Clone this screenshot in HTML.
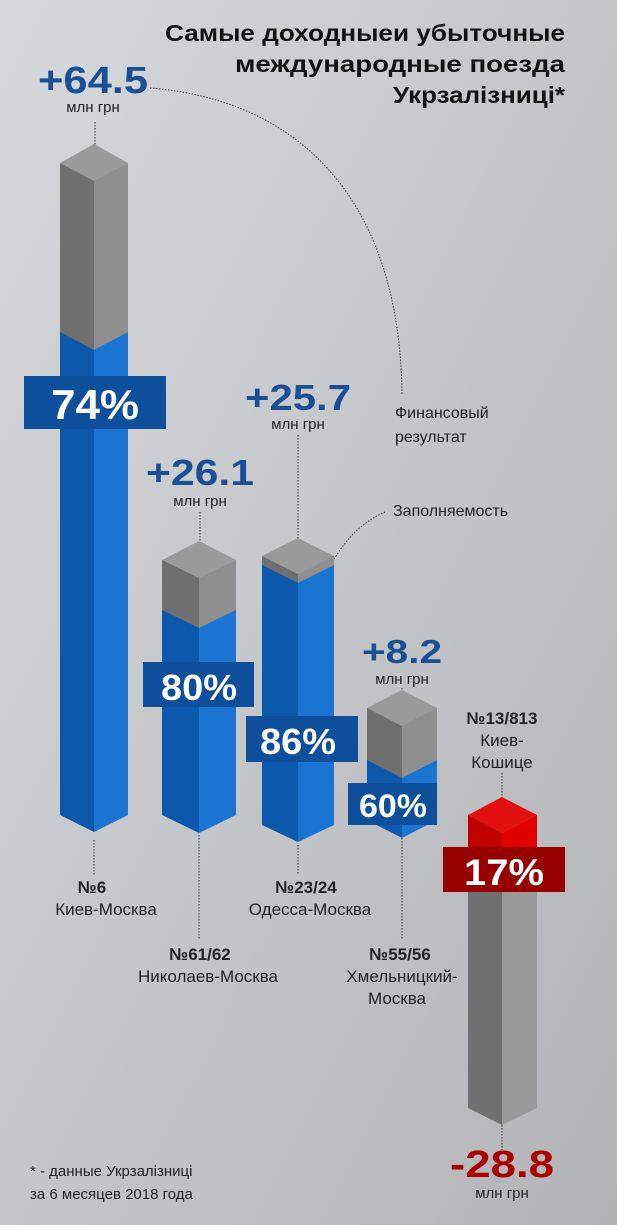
<!DOCTYPE html>
<html><head><meta charset="utf-8"><style>
html,body{margin:0;padding:0}
body{width:617px;height:1225px;overflow:hidden;font-family:"Liberation Sans","DejaVu Sans",sans-serif}
</style></head><body>
<svg width="617" height="1225" viewBox="0 0 617 1225" xmlns="http://www.w3.org/2000/svg" font-family="Liberation Sans, DejaVu Sans, sans-serif">
<defs>
<linearGradient id="bg" x1="0" y1="0" x2="1" y2="1">
<stop offset="0" stop-color="#d6d8db"/><stop offset="0.5" stop-color="#c4c6c9"/><stop offset="1" stop-color="#b2b4b7"/>
</linearGradient>
</defs>
<rect width="617" height="1225" fill="url(#bg)"/>
<g font-weight="bold" font-size="23" fill="#111" text-anchor="end">
<text x="565" y="41" textLength="400" lengthAdjust="spacingAndGlyphs">Самые доходныеи убыточные</text>
<text x="565" y="72" textLength="330" lengthAdjust="spacingAndGlyphs">международные поезда</text>
<text x="565" y="103" textLength="172" lengthAdjust="spacingAndGlyphs">Укрзалізниці*</text>
</g>
<g fill="none" stroke="#333" stroke-width="1" stroke-dasharray="1.5 1.5">
<path d="M150 88 C300 100 400 200 402 395"/>
<path d="M385 512 C320 540 290 640 330 740"/>
<line x1="95" y1="122" x2="95" y2="158"/>
<line x1="200" y1="512" x2="200" y2="555"/>
<line x1="298" y1="435" x2="298" y2="552"/>
<line x1="402" y1="688" x2="402" y2="705"/>
<line x1="502" y1="773" x2="502" y2="810"/>
<line x1="502" y1="1125" x2="502" y2="1150"/>
<line x1="94" y1="840" x2="94" y2="875"/>
<line x1="199" y1="835" x2="199" y2="940"/>
<line x1="298" y1="845" x2="298" y2="875"/>
<line x1="402" y1="835" x2="402" y2="940"/>
</g>
<g>
<polygon points="60,163 94,181 94,832 60,815" fill="#0b58ad"/>
<polygon points="94,181 128,163 128,815 94,832" fill="#1b74d2"/>
<polygon points="60,163 94,181 94,350 60,332" fill="#6f6f6f"/>
<polygon points="94,181 128,163 128,332 94,350" fill="#8f8f8f"/>
<polygon points="60,163 94,144 128,163 94,181" fill="#9a9a9a"/>
</g>
<g>
<polygon points="162,560 199,578 199,833 162,815" fill="#0b58ad"/>
<polygon points="199,578 236,560 236,815 199,833" fill="#1b74d2"/>
<polygon points="162,560 199,578 199,628 162,610" fill="#6f6f6f"/>
<polygon points="199,578 236,560 236,610 199,628" fill="#8f8f8f"/>
<polygon points="162,560 199,541 236,560 199,578" fill="#9a9a9a"/>
</g>
<g>
<polygon points="262,556 298,574 298,842 262,825" fill="#0b58ad"/>
<polygon points="298,574 334,556 334,825 298,842" fill="#1b74d2"/>
<polygon points="262,556 298,574 298,583 262,565" fill="#6f6f6f"/>
<polygon points="298,574 334,556 334,565 298,583" fill="#8f8f8f"/>
<polygon points="262,556 298,538 334,556 298,574" fill="#9a9a9a"/>
</g>
<g>
<polygon points="367,708 402,726 402,838 367,820" fill="#0b58ad"/>
<polygon points="402,726 437,708 437,820 402,838" fill="#1b74d2"/>
<polygon points="367,708 402,726 402,778 367,760" fill="#6f6f6f"/>
<polygon points="402,726 437,708 437,760 402,778" fill="#8f8f8f"/>
<polygon points="367,708 402,690 437,708 402,726" fill="#9a9a9a"/>
</g>
<g>
<polygon points="468,815 502,833 502,1125 468,1108" fill="#707070"/>
<polygon points="502,833 537,815 537,1108 502,1125" fill="#9a9a9a"/>
<polygon points="468,815 502,833 502,850 468,850" fill="#c20000"/>
<polygon points="502,833 537,815 537,850 502,850" fill="#e00000"/>
<polygon points="468,815 502,797 537,815 502,833" fill="#e21010"/>
</g>
<g font-weight="bold" font-size="42" fill="#fff" text-anchor="middle">
<rect x="24" y="376" width="142" height="53" fill="#0d4f9a"/><text x="95" y="419" textLength="88" lengthAdjust="spacingAndGlyphs">74%</text>
<rect x="143" y="662" width="111" height="45" fill="#0d4f9a"/><text x="199" y="700" font-size="36" textLength="76" lengthAdjust="spacingAndGlyphs">80%</text>
<rect x="246" y="716" width="112" height="46" fill="#0d4f9a"/><text x="298" y="754" font-size="36" textLength="76" lengthAdjust="spacingAndGlyphs">86%</text>
<rect x="348" y="783" width="89" height="42" fill="#0d4f9a"/><text x="393" y="817" font-size="32" textLength="68" lengthAdjust="spacingAndGlyphs">60%</text>
<rect x="443" y="847" width="122" height="45" fill="#960000"/><text x="504" y="885" font-size="37" textLength="80" lengthAdjust="spacingAndGlyphs">17%</text>
</g>
<g font-weight="bold" fill="#1a4f95" text-anchor="middle">
<text x="93" y="93" font-size="38" textLength="110" lengthAdjust="spacingAndGlyphs">+64.5</text>
<text x="200" y="485" font-size="36" textLength="108" lengthAdjust="spacingAndGlyphs">+26.1</text>
<text x="298" y="410" font-size="36" textLength="106" lengthAdjust="spacingAndGlyphs">+25.7</text>
<text x="402" y="663" font-size="33" textLength="80" lengthAdjust="spacingAndGlyphs">+8.2</text>
<text x="502" y="1177" font-size="38" fill="#a00" textLength="104" lengthAdjust="spacingAndGlyphs">-28.8</text>
</g>
<g font-size="15" fill="#222" text-anchor="middle">
<text x="93" y="112">млн грн</text>
<text x="200" y="506">млн грн</text>
<text x="298" y="429">млн грн</text>
<text x="402" y="684">млн грн</text>
<text x="502" y="1198">млн грн</text>
</g>
<g font-size="16" fill="#222">
<text x="395" y="418">Финансовый</text>
<text x="395" y="442">результат</text>
<text x="393" y="516">Заполняемость</text>
</g>
<g font-size="17" fill="#222" text-anchor="middle">
<text x="502" y="724" font-weight="bold">№13/813</text>
<text x="502" y="746">Киев-</text>
<text x="502" y="768">Кошице</text>
<text x="92" y="893" font-weight="bold">№6</text>
<text x="106" y="915">Киев-Москва</text>
<text x="200" y="960" font-weight="bold">№61/62</text>
<text x="208" y="982">Николаев-Москва</text>
<text x="306" y="893" font-weight="bold">№23/24</text>
<text x="310" y="915">Одесса-Москва</text>
<text x="400" y="960" font-weight="bold">№55/56</text>
<text x="402" y="982">Хмельницкий-</text>
<text x="397" y="1004">Москва</text>
</g>
<g font-size="15" fill="#222">
<text x="30" y="1176">* - данные Укрзалізниці</text>
<text x="30" y="1199">за 6 месяцев 2018 года</text>
</g>
</svg>
</body></html>
